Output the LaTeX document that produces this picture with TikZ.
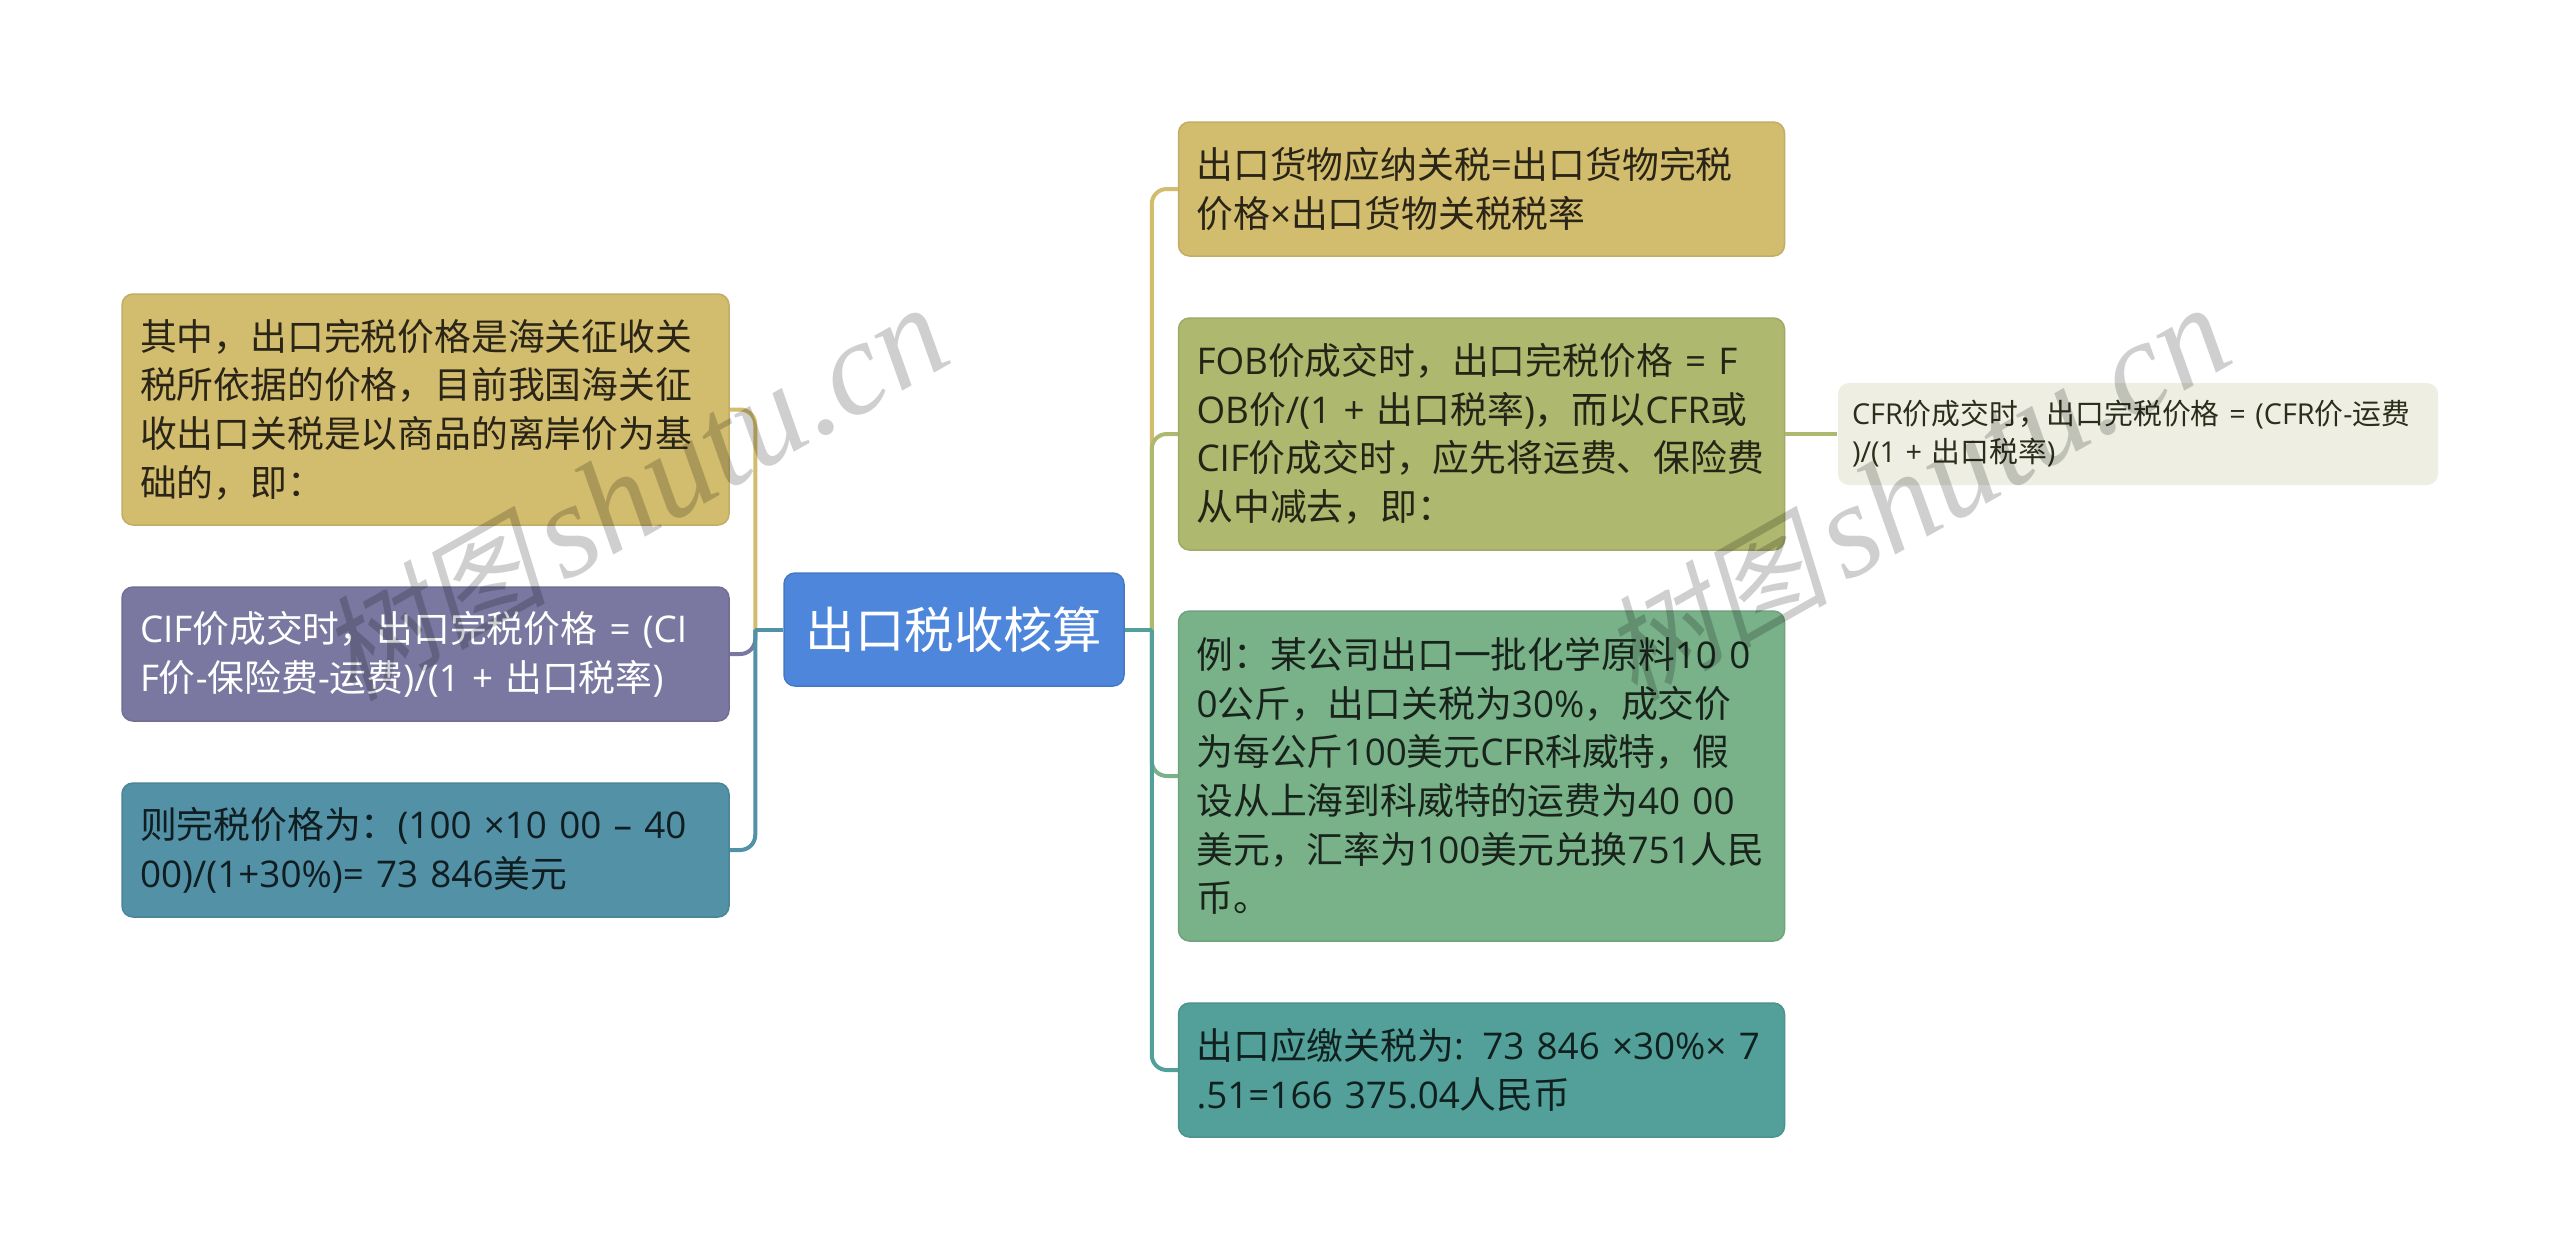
\documentclass[tikz,border=0pt]{standalone}
\usetikzlibrary{calc}
\usepackage{fontspec}
\setmainfont{Open Sans}
\newfontfamily\cjkf{Noto Sans CJK SC}
\newfontfamily\latf{Open Sans}
\newfontfamily\wmlatin{Liberation Serif}
\newfontfamily\wmcjk[FakeSlant=0.22]{Noto Sans CJK SC}
\XeTeXinterchartokenstate=1
\newXeTeXintercharclass\cjkclass
\newcount\cc
\cc="4E00 \loop\ifnum\cc<"9FFF \XeTeXcharclass\cc=\cjkclass \advance\cc by 1 \repeat
\cc="3000 \loop\ifnum\cc<"3040 \XeTeXcharclass\cc=\cjkclass \advance\cc by 1 \repeat
\cc="FF00 \loop\ifnum\cc<"FFF0 \XeTeXcharclass\cc=\cjkclass \advance\cc by 1 \repeat
\XeTeXinterchartoks 0 \cjkclass={\cjkf}
\XeTeXinterchartoks 4095 \cjkclass={\cjkf}
\XeTeXinterchartoks \cjkclass 0={\latf}
\XeTeXinterchartoks \cjkclass 4095={\latf}
\newcommand\wmtext{\XeTeXinterchartokenstate=0\relax{\wmcjk\fontsize{114pt}{134pt}\selectfont 树图}\hspace{16pt}\wmlatin\itshape shutu.cn}
\definecolor{cYel}{HTML}{D2BC6E}
\definecolor{cOli}{HTML}{AEB86E}
\definecolor{cGrn}{HTML}{79B189}
\definecolor{cTeal}{HTML}{52A099}
\definecolor{cPur}{HTML}{7A78A0}
\definecolor{cBlu}{HTML}{5291A6}
\definecolor{cRoot}{HTML}{4D86DB}
\definecolor{cSub}{HTML}{EEEFE2}
\tikzset{
  x=1pt,y=-1pt,
  box/.style={rectangle,rounded corners=11pt,inner sep=0pt,line width=1.5pt,align=left,anchor=center,
    font=\fontsize{36.8pt}{48.6pt}\selectfont},
  big/.style={box,minimum width=607pt,text width=571pt},
  rt/.style={big,minimum width=606pt,text width=570pt},
  link/.style={line width=4pt,rounded corners=15pt},
  wm/.style={rotate=29.5,anchor=base west,inner sep=0pt,text=black,opacity=.19,
    font=\fontsize{134pt}{134pt}\selectfont}
}
\begin{document}
\begin{tikzpicture}
\useasboundingbox (0,0) rectangle (2560,1259);
\fill[white] (0,0) rectangle (2560,1259);
% nodes
\node[box,fill=cRoot,draw=cRoot!90!black,minimum width=340pt,minimum height=113pt,text=white,align=center,
  font=\fontsize{49.4pt}{56pt}\selectfont] (root) at (954,629.5) {出口税收核算};
\node[big,fill=cYel,draw=cYel!92!black,minimum height=231pt,text=black!80!cYel] (l1) at (425.5,409.5)
  {其中，出口完税价格是海关征收关\\税所依据的价格，目前我国海关征\\收出口关税是以商品的离岸价为基\\础的，即：};
\node[big,fill=cPur,draw=cPur!92!black,minimum height=134pt,text=white] (l2) at (425.5,654)
  {CIF价成交时，出口完税价格 = (CI\\F价-保险费-运费)/(1 + 出口税率)};
\node[big,fill=cBlu,draw=cBlu!92!black,minimum height=134pt,text=black!80!cBlu] (l3) at (425.5,850)
  {则完税价格为：(100 ×10 00 – 40\\00)/(1+30\%)= 73 846美元};
\node[rt,fill=cYel,draw=cYel!92!black,minimum height=134pt,text=black!80!cYel] (r1) at (1481.5,189)
  {出口货物应纳关税=出口货物完税\\价格×出口货物关税税率};
\node[rt,fill=cOli,draw=cOli!92!black,minimum height=232pt,text=black!80!cOli] (r2) at (1481.5,434)
  {FOB价成交时，出口完税价格 = F\\OB价/(1 + 出口税率)，而以CFR或\\CIF价成交时，应先将运费、保险费\\从中减去，即：};
\node[rt,fill=cGrn,draw=cGrn!92!black,minimum height=330pt,text=black!80!cGrn] (r3) at (1481.5,776)
  {例：某公司出口一批化学原料10 0\\0公斤，出口关税为30\%，成交价\\为每公斤100美元CFR科威特，假\\设从上海到科威特的运费为40 00\\美元，汇率为100美元兑换751人民\\币。};
\node[rt,fill=cTeal,draw=cTeal!92!black,minimum height=134pt,text=black!80!cTeal] (r4) at (1481.5,1070)
  {出口应缴关税为: 73 846 ×30\%× 7\\.51=166 375.04人民币};
\node[box,fill=cSub,draw=none,minimum width=600pt,minimum height=102pt,text width=572pt,text=black!75!cOli,
  font=\fontsize{28.8pt}{38pt}\selectfont] (s1) at (2138,434)
  {CFR价成交时，出口完税价格 = (CFR价-运费\\)/(1 + 出口税率)};
% connectors
\coordinate (tr) at ($(root.east)+(27,0)$);
\coordinate (tl) at ($(root.west)+(-28,0)$);
\draw[link,cYel] (tr) |- (r1.west);
\draw[link,cOli] (tr) |- (r2.west);
\draw[link,cGrn] (tr) |- (r3.west);
\draw[link,cTeal] (tr) |- (r4.west);
\draw[line width=4pt,cTeal] (root.east) -- (tr);
\draw[link,cYel] (tl) |- (l1.east);
\draw[link,cPur] (tl) |- (l2.east);
\draw[link,cBlu] (tl) |- (l3.east);
\draw[line width=4pt,cBlu] (root.west) -- (tl);
\draw[line width=4pt,cOli] (r2.east) -- (s1.west);
% watermark
\node[wm] (w1) at (352,703) {\wmtext};
\node[wm] (w2) at (1634,703) {\wmtext};
\end{tikzpicture}
\end{document}
